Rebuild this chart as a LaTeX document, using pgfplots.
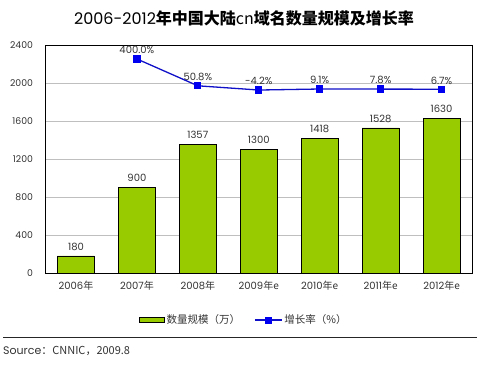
\documentclass[border=0pt]{standalone}
\usepackage{fontspec}
\setmainfont{Poppins}
\newfontfamily\cjk{Noto Sans CJK SC}
\usepackage{pgfplots}
\pgfplotsset{compat=1.18}
\definecolor{bargreen}{HTML}{99CC00}
\definecolor{lineblue}{HTML}{1010C8}
\definecolor{markblue}{HTML}{0000F0}
\definecolor{txt}{HTML}{333333}
\newcommand{\tickfont}{\fontsize{9.3bp}{11bp}\selectfont}
\newcommand{\xfont}{\fontsize{10bp}{12bp}\selectfont}
\newcommand{\legfont}{\fontsize{10.5bp}{12bp}\selectfont}
\begin{document}
\begin{tikzpicture}[x=1bp,y=1bp]
\useasboundingbox (0,0) rectangle (481,364);
\node[text=black] at (244,346) {\fontsize{16bp}{18bp}\selectfont 2006-2012\cjk{\bfseries 年中国大陆}cn\cjk{\bfseries 域名数量规模及增长率}};
\begin{axis}[
  at={(45.5bp,91bp)}, anchor=south west,
  width=426.5bp, height=228bp, scale only axis,
  xmin=-0.5, xmax=6.5, ymin=0, ymax=2400,
  ytick={0,400,...,2400},
  xtick={0,...,6},
  xticklabels={2006\cjk{年},2007\cjk{年},2008\cjk{年},2009\cjk{年}e,2010\cjk{年}e,2011\cjk{年}e,2012\cjk{年}e},
  xtick style={draw=none}, ytick style={draw=none},
  ymajorgrids, grid style={black!25, line width=0.6bp},
  axis line style={black, line width=0.8bp},
  tick label style={font=\tickfont, text=txt},
  xticklabel style={font=\xfont, yshift=-5bp},
  yticklabel style={xshift=-9bp},
  /pgf/number format/assume math mode=true,
  /pgf/number format/1000 sep={},
]
\addplot[ybar, bar width=37bp, fill=bargreen, draw=black, line width=0.6bp,
  nodes near coords, nodes near coords style={font=\xfont, text=txt, yshift=2bp}]
  coordinates {(0,180) (1,900) (2,1357) (3,1300) (4,1418) (5,1528) (6,1630)};
\end{axis}
\begin{axis}[
  at={(45.5bp,91bp)}, anchor=south west,
  width=426.5bp, height=228bp, scale only axis,
  xmin=-0.5, xmax=6.5, ymin=-2385, ymax=581.7,
  hide axis, clip=false,
  legend style={at={(0.465,-0.206)}, anchor=center, draw=none, fill=none,
    legend columns=2, font=\legfont, text=txt,
    /tikz/every even column/.append style={column sep=12bp}},
]
\addlegendimage{legend image code/.code={\draw[fill=bargreen,draw=black,line width=0.6bp] (0bp,-2.5bp) rectangle (25bp,2.5bp);}}
\addlegendentry{\cjk{数量规模（万）}}
\addlegendimage{legend image code/.code={\draw[lineblue,line width=1.2bp] (0bp,0bp) -- (27bp,0bp); \fill[markblue] (10.5bp,-3bp) rectangle (16.5bp,3bp);}}
\addlegendentry{\cjk{增长率（\%）}}
\addplot[forget plot, color=lineblue, line width=1.3bp, mark=square*, mark size=3bp,
  mark options={fill=markblue, draw=markblue},
  point meta=explicit symbolic, nodes near coords,
  nodes near coords style={font=\xfont, text=txt, yshift=1bp}]
  coordinates {(1,400)[400.0\%] (2,50.8)[50.8\%] (3,-4.2)[-4.2\%] (4,9.1)[9.1\%] (5,7.8)[7.8\%] (6,6.7)[6.7\%]};
\end{axis}
\draw[black!85, line width=0.8bp] (3,27) -- (477,27);
\node[anchor=west, text=txt, inner sep=0] at (3,13) {\fontsize{11bp}{13bp}\selectfont Source\cjk{：}CNNIC\cjk{，}2009.8};
\end{tikzpicture}
\end{document}
